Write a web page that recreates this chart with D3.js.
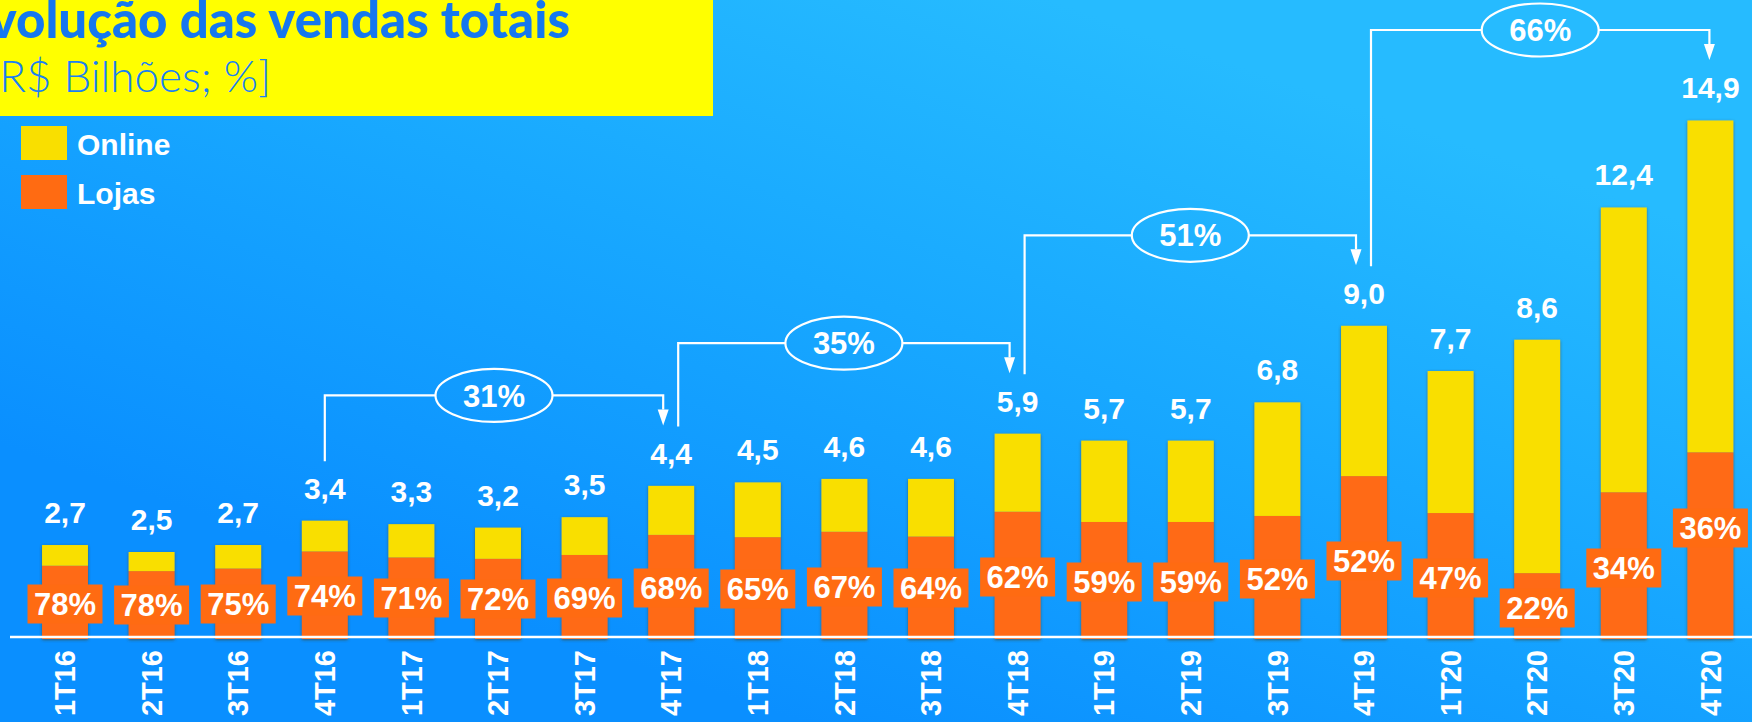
<!DOCTYPE html>
<html>
<head>
<meta charset="utf-8">
<script src="https://cdn.jsdelivr.net/npm/d3@7"></script>
<style>
  html, body { margin: 0; padding: 0; overflow: hidden; background: #129cff; }
  svg { display: block; }
  text { font-family: "Liberation Sans", Arial, sans-serif; }
</style>
</head>
<body>
<svg id="chart" width="1752" height="722"></svg>
<script>
// ---- data -------------------------------------------------------------
const quarters = ["1T16","2T16","3T16","4T16","1T17","2T17","3T17","4T17",
                  "1T18","2T18","3T18","4T18","1T19","2T19","3T19","4T19",
                  "1T20","2T20","3T20","4T20"];
// total sales, R$ billions
const totalSales = [2.7, 2.5, 2.7, 3.4, 3.3, 3.2, 3.5, 4.4,
                    4.5, 4.6, 4.6, 5.9, 5.7, 5.7, 6.8, 9.0,
                    7.7, 8.6, 12.4, 14.9];
// share of physical stores (Lojas) in total sales, %
const storeShare = [78, 78, 75, 74, 71, 72, 69, 68,
                    65, 67, 64, 62, 59, 59, 52, 52,
                    47, 22, 34, 36];
const seriesNames = ["Online", "Lojas"];
// year-over-year growth of Q4 sales
const growthFrom = ["4T16", "4T17", "4T18", "4T19"];
const growthTo   = ["4T17", "4T18", "4T19", "4T20"];
const growthPct  = [31, 35, 51, 66];

// ---- layout -----------------------------------------------------------
const W = 1752, H = 722;
const colors = { Online: "#f9df00", Lojas: "#ff6b12" };
// height of each share tag's centre above the baseline, px
const shareTagRise = [35, 34, 35, 43, 41, 40, 41, 51, 50, 52, 51, 62,
                      57, 57, 60, 78, 61, 31, 71, 111];

const svg = d3.select("#chart");
const defs = svg.append("defs");

const bg = defs.append("linearGradient").attr("id", "bg")
  .attr("gradientUnits", "userSpaceOnUse")
  .attr("x1", 1050).attr("y1", 0).attr("x2", 800).attr("y2", 722);
bg.append("stop").attr("offset", 0).attr("stop-color", "#26bbff");
bg.append("stop").attr("offset", 0.45).attr("stop-color", "#18a8ff");
bg.append("stop").attr("offset", 1).attr("stop-color", "#0a8fff");

const shadow = defs.append("filter").attr("id", "barShadow")
  .attr("x", "-20%").attr("y", "-5%").attr("width", "140%").attr("height", "110%");
shadow.append("feDropShadow").attr("dx", 0).attr("dy", 1)
  .attr("stdDeviation", 1.8).attr("flood-color", "#3c4a3a").attr("flood-opacity", 0.75);

svg.append("rect").attr("width", W).attr("height", H).attr("fill", "url(#bg)");

const x = d3.scaleBand().domain(quarters)
  .range([21.7, 1753.7]).paddingInner(0.47).paddingOuter(0.235);
const y = d3.scaleLinear().domain([0, 15]).range([639, 117]);
const xc = q => x(q) + x.bandwidth() / 2;

const fmt = d3.formatLocale({ decimal: ",", thousands: ".", grouping: [3], currency: ["R$", ""] })
  .format(".1f");

const rows = quarters.map((q, i) => ({
  quarter: q,
  total: totalSales[i],
  share: storeShare[i],
  Lojas: totalSales[i] * storeShare[i] / 100,
  Online: totalSales[i] * (100 - storeShare[i]) / 100
}));

// ---- stacked bars -----------------------------------------------------
const stack = d3.stack().keys(["Lojas", "Online"])(rows);
const barsG = svg.append("g").attr("filter", "url(#barShadow)");
barsG.selectAll("g.layer").data(stack).join("g")
  .attr("class", "layer")
  .attr("fill", d => colors[d.key])
  .selectAll("rect").data(d => d).join("rect")
  .attr("x", d => x(d.data.quarter))
  .attr("y", d => y(d[1]))
  .attr("width", x.bandwidth())
  .attr("height", d => y(d[0]) - y(d[1]));

// ---- baseline and category axis ---------------------------------------
svg.append("line").attr("x1", 10).attr("x2", W).attr("y1", 637).attr("y2", 637)
  .attr("stroke", "#ffffff").attr("stroke-width", 2.5);

const axis = svg.append("g").attr("transform", "translate(0,637)")
  .call(d3.axisBottom(x).tickSize(0).tickSizeOuter(0));
axis.select(".domain").remove();
axis.selectAll(".tick text")
  .attr("x", -13).attr("y", 0).attr("dy", "0.35em")
  .attr("transform", "rotate(-90)")
  .attr("text-anchor", "end")
  .attr("fill", "#ffffff")
  .style("font-family", "'Liberation Sans', Arial, sans-serif")
  .style("font-size", "29px").style("font-weight", "bold");

// ---- total value labels -----------------------------------------------
const labelGap = 22, capH = 30 * 0.716;
const labelBase = d => y(d.total) - labelGap;
svg.append("g").selectAll("text").data(rows).join("text")
  .attr("x", d => xc(d.quarter))
  .attr("y", labelBase)
  .attr("text-anchor", "middle")
  .attr("fill", "#ffffff")
  .style("font-size", "30px").style("font-weight", "bold")
  .text(d => fmt(d.total));

// ---- store share tags -------------------------------------------------
const tagW = 75, tagH = 39;
const tags = svg.append("g").selectAll("g").data(rows).join("g")
  .attr("transform", (d, i) => `translate(${xc(d.quarter)},${y(0) - shareTagRise[i]})`);
tags.append("rect")
  .attr("x", -tagW / 2).attr("y", -tagH / 2)
  .attr("width", tagW).attr("height", tagH)
  .attr("fill", colors.Lojas);
tags.append("text")
  .attr("text-anchor", "middle").attr("dy", "0.36em")
  .attr("fill", "#ffffff")
  .style("font-size", "31px").style("font-weight", "bold")
  .text(d => d.share + "%");

// ---- growth brackets --------------------------------------------------
const byQ = new Map(rows.map(r => [r.quarter, r]));
const rx = 58.5, ry = 26.5, head = 16;
const brG = svg.append("g");
growthPct.forEach((pct, k) => {
  const a = byQ.get(growthFrom[k]), b = byQ.get(growthTo[k]);
  const fromTop = labelBase(a) - capH;
  const toTop = labelBase(b) - capH;
  const level = toTop - 47;
  const tip = toTop - 17;
  const xs = xc(a.quarter) + (growthTo.includes(a.quarter) ? 7 : 0);
  const xe = xc(b.quarter) - (growthFrom.includes(b.quarter) ? 8 : 1);
  const cx = (xs + xe) / 2;
  brG.append("path")
    .attr("d", `M${xs},${fromTop - 16}V${level}H${cx - rx}`)
    .attr("fill", "none").attr("stroke", "#fff").attr("stroke-width", 2.2);
  brG.append("path")
    .attr("d", `M${cx + rx},${level}H${xe}V${tip - head}`)
    .attr("fill", "none").attr("stroke", "#fff").attr("stroke-width", 2.2);
  brG.append("path")
    .attr("d", `M${xe - 5.5},${tip - head}L${xe + 5.5},${tip - head}L${xe},${tip}Z`)
    .attr("fill", "#fff");
  brG.append("ellipse")
    .attr("cx", cx).attr("cy", level).attr("rx", rx).attr("ry", ry)
    .attr("fill", "none").attr("stroke", "#fff").attr("stroke-width", 2.2);
  brG.append("text")
    .attr("x", cx).attr("y", level).attr("dy", "0.36em")
    .attr("text-anchor", "middle").attr("fill", "#fff")
    .style("font-size", "31px").style("font-weight", "bold")
    .text(pct + "%");
});

// ---- title block ------------------------------------------------------
svg.append("rect").attr("x", 0).attr("y", 0).attr("width", 713).attr("height", 116)
  .attr("fill", "#ffff00");
svg.append("text").attr("x", 570).attr("y", 38)
  .attr("text-anchor", "end").attr("fill", "#1577ef")
  .style("font-family", "Lato, 'Open Sans', sans-serif")
  .style("font-size", "51px").style("font-weight", "900")
  .text("Evolução das vendas totais");
svg.append("text").attr("x", 271).attr("y", 92)
  .attr("text-anchor", "end").attr("fill", "#1a80f3")
  .style("font-family", "Lato, 'Open Sans', sans-serif")
  .style("font-size", "44px").style("font-weight", "300")
  .text("[R$ Bilhões; %]");

// ---- legend -----------------------------------------------------------
const legend = svg.append("g").selectAll("g").data(seriesNames).join("g")
  .attr("transform", (d, i) => `translate(21,${126 + i * 49})`);
legend.append("rect").attr("width", 46).attr("height", 34).attr("fill", d => colors[d]);
legend.append("text").attr("x", 56).attr("y", 29)
  .attr("fill", "#ffffff")
  .style("font-size", "30px").style("font-weight", "bold")
  .text(d => d);
</script>
</body>
</html>
